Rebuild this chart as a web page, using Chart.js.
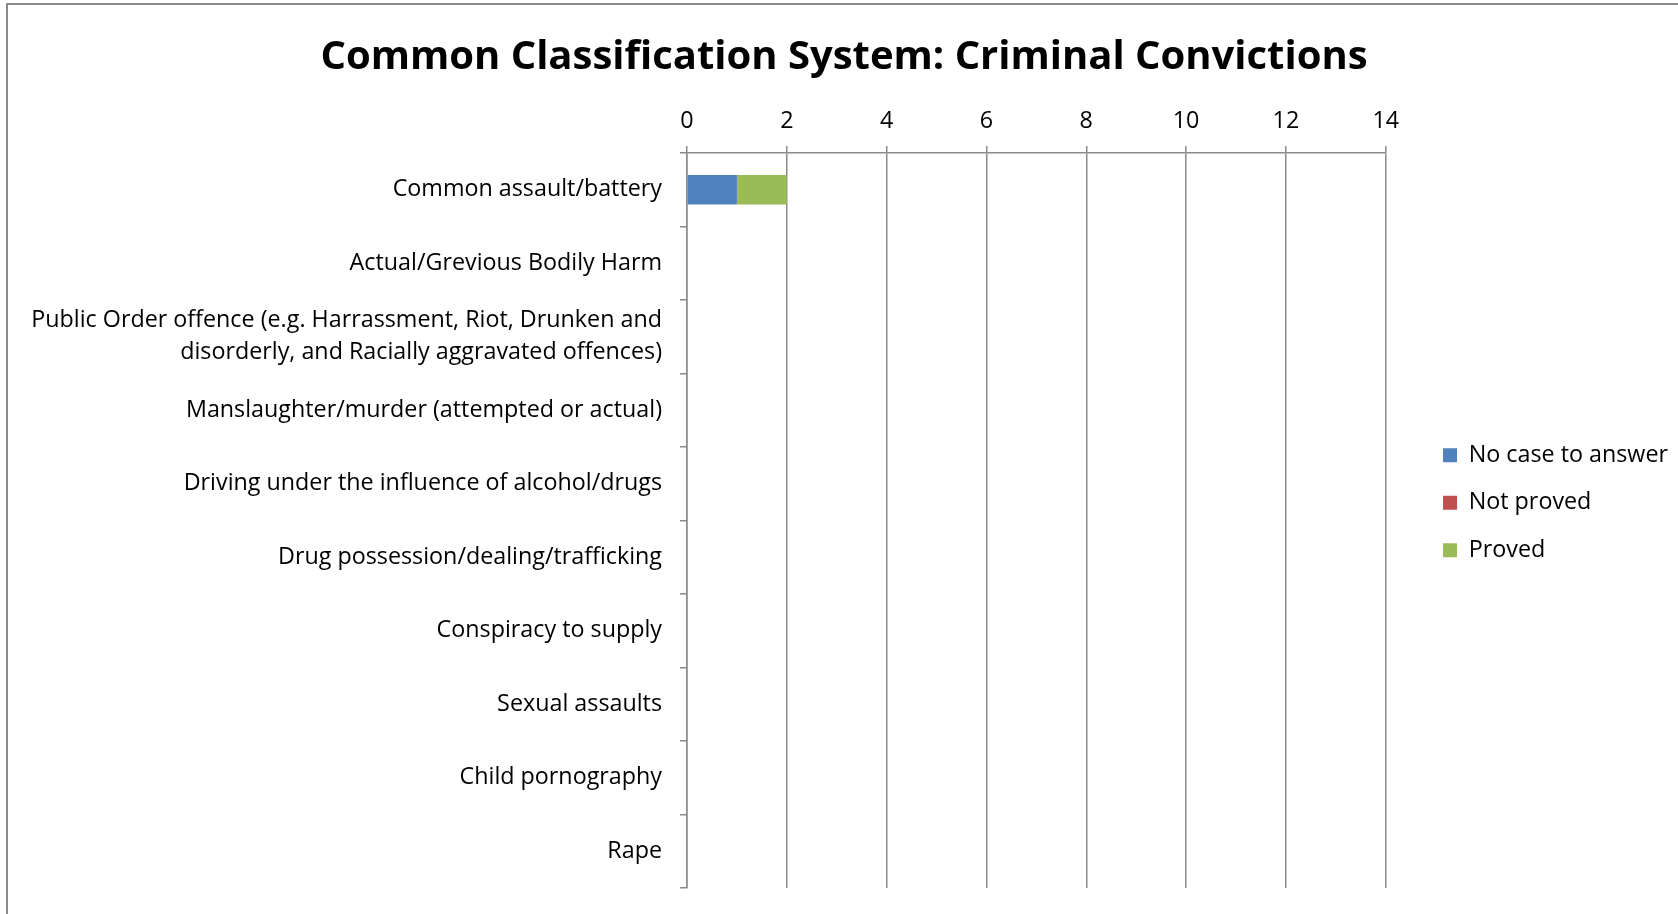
<!DOCTYPE html>
<html>
<head>
<meta charset="utf-8">
<script src="https://cdn.jsdelivr.net/npm/chart.js@4.4.1/dist/chart.umd.min.js"></script>
<style>
  html, body { margin: 0; padding: 0; background: #fff; overflow: hidden; }
  #frame {
    position: absolute; left: 6px; top: 3px;
    width: 1800px; height: 1000px;
    border-left: 2px solid #8a8a8a; border-top: 2px solid #8a8a8a;
  }
  #wrap { position: absolute; left: 0; top: 0; width: 1678px; height: 914px; }
</style>
</head>
<body>
<div id="frame"></div>
<div id="wrap"><canvas id="chart"></canvas></div>
<script>
"use strict";

// offence categories (top to bottom)
const categorias = [
  "Common assault/battery",
  "Actual/Grevious Bodily Harm",
  ["Public Order offence (e.g. Harrassment, Riot, Drunken and", "disorderly, and Racially aggravated offences)"],
  "Manslaughter/murder (attempted or actual)",
  "Driving under the influence of alcohol/drugs",
  "Drug possession/dealing/trafficking",
  "Conspiracy to supply",
  "Sexual assaults",
  "Child pornography",
  "Rape",
];

const noCaseToAnswer = [1, 0, 0, 0, 0, 0, 0, 0, 0, 0];
const notProved = [0, 0, 0, 0, 0, 0, 0, 0, 0, 0];
const proved = [1, 0, 0, 0, 0, 0, 0, 0, 0, 0];

const xMin = 0;
const xMax = 14;
const xStep = 2;

const fonte = "'Open Sans', sans-serif";
const cinza = "#8a8a8a";
const tam = 23.3;

const ctx = document.getElementById("chart");

new Chart(ctx, {
  type: "bar",
  data: {
    labels: categorias,
    datasets: [
      { label: "No case to answer", data: noCaseToAnswer, backgroundColor: "#4f81bd" },
      { label: "Not proved", data: notProved, backgroundColor: "#c0504d" },
      { label: "Proved", data: proved, backgroundColor: "#9bbb59" },
    ],
  },
  options: {
    indexAxis: "y",
    responsive: true,
    maintainAspectRatio: false,
    animation: false,
    datasets: {
      bar: { categoryPercentage: 1, barPercentage: 0.4 },
    },
    layout: { padding: { left: 10, right: 0, top: 8, bottom: 26 } },
    scales: {
      x: {
        position: "top",
        stacked: true,
        min: xMin,
        max: xMax,
        ticks: { stepSize: xStep, color: "#000", padding: 11, font: { family: fonte, size: tam } },
        grid: { color: cinza, lineWidth: 1.5, tickLength: 7 },
        border: { color: cinza, width: 1.5 },
      },
      y: {
        stacked: true,
        ticks: { color: "#000", padding: 18, font: { family: fonte, size: tam, lineHeight: 1.37 } },
        grid: { color: cinza, lineWidth: 1.5, tickLength: 7, drawOnChartArea: false, offset: true },
        border: { color: cinza, width: 1.5 },
        afterFit: function (scale) {
          scale.width = 677;
          // labels sit inside their bands, no overflow room needed
          scale.paddingTop = 0;
          scale.paddingBottom = 0;
        },
      },
      // empty axis, only keeps a gap between the plot and the legend
      espaco: {
        type: "linear",
        position: "right",
        grid: { display: false },
        ticks: { display: false },
        border: { display: false },
        afterFit: function (scale) {
          scale.width = 33;
        },
      },
    },
    plugins: {
      title: {
        display: true,
        text: "Common Classification System: Criminal Convictions",
        color: "#000",
        font: { family: fonte, size: 40, weight: "bold" },
        padding: { top: 26, bottom: 14 },
      },
      legend: {
        position: "right",
        align: "start",
        title: { display: true, text: "", font: { size: 1 }, padding: { top: 410, bottom: 0 } },
        labels: {
          color: "#000",
          boxWidth: 14,
          boxHeight: 14,
          padding: 24.3,
          font: { family: fonte, size: tam },
        },
      },
      tooltip: { enabled: false },
    },
  },
});
</script>
</body>
</html>
